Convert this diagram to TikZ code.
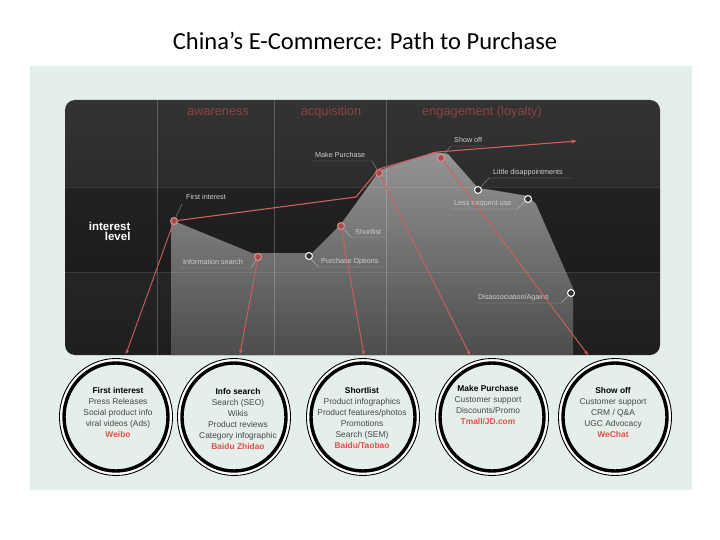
\documentclass[tikz,border=0pt]{standalone}
\usepackage{fontspec}
\setmainfont{Liberation Sans}
\newfontfamily\titlefont{Carlito}
\usetikzlibrary{shapes.geometric,arrows.meta}
\definecolor{panel}{HTML}{E4EFEA}
\definecolor{trend}{HTML}{D0605C}
\definecolor{hdr}{HTML}{8E4444}
\definecolor{redtxt}{HTML}{E0504A}
\definecolor{lbl}{HTML}{CFCFCF}
\tikzset{
  rdot/.style={circle, draw=trend!70!white, fill=trend!80!black, line width=1pt, minimum size=7pt, inner sep=0pt},
  wdot/.style={circle, draw=white, fill=gray!40!black, line width=1pt, minimum size=7pt, inner sep=0pt},
  chartlbl/.style={font=\fontsize{7.2}{8.5}\selectfont, text=lbl, inner sep=1pt},
  leader/.style={draw=white, draw opacity=0.45, line width=0.45pt},
  conn/.style={draw=trend, line width=0.9pt, -{Stealth[length=4.5pt,width=3.5pt]}},
  hdrlbl/.style={font=\fontsize{12.8}{14}\selectfont, text=hdr},
  ringtxt/.style={align=center, font=\fontsize{8.4}{11}\selectfont, text=gray!55!black, inner sep=0pt},
  outerring/.style={draw=black, fill=white, line width=0.9pt},
  innerring/.style={draw=black, fill=panel, line width=3.4pt},
  gridline/.style={draw=white, draw opacity=0.22, line width=0.6pt},
}
\newcommand{\rt}[1]{\textcolor{redtxt}{\bfseries #1}}
\newcommand{\bt}[1]{\textcolor{black}{\bfseries #1}}
\begin{document}
\begin{tikzpicture}[x=1pt,y=-1pt]
\useasboundingbox (0,0) rectangle (720,540);
\fill[white] (0,0) rectangle (720,540);
\node[font=\titlefont\fontsize{24.5}{28}\selectfont] (title) at (365,41) {China’s E-Commerce: Path to Purchase};
\fill[panel] (30,66) rectangle (692,490);

% dark chart board
\path[rounded corners=10pt, top color=black!80, bottom color=black!88] (65,100) rectangle (660,355);
\fill[black, opacity=0.22] (65,187) rectangle (660,272);

% grey interest area
\shade[top color=black!42, bottom color=black!70]
  (171,218) -- (174,221) -- (252,253) -- (312,253) -- (341,224) -- (362,195) -- (380,170)
  -- (434,152) -- (448,154) -- (478,188) -- (492,190) -- (528,196) -- (536,204)
  -- (573,288) -- (573,355) -- (171,355) -- cycle;

% grid lines
\draw[gridline] (157,100) -- (157,355);
\draw[gridline] (274,100) -- (274,355);
\draw[gridline] (386,100) -- (386,355);
\draw[gridline, draw opacity=0.1] (65,187) -- (660,187);
\draw[gridline, draw opacity=0.1] (65,272) -- (660,272);

% headers
\node[hdrlbl] (h1) at (218,112) {awareness};
\node[hdrlbl] (h2) at (331,112) {acquisition};
\node[hdrlbl] (h3) at (482,112) {engagement (loyalty)};
\node[align=right, anchor=east, font=\bfseries\fontsize{11.5}{10}\selectfont, text=white] (il) at (134,231) {interest\\level};

% dots
\node[rdot] (d1) at (174,221) {};
\node[rdot] (d2) at (258,257) {};
\node[rdot] (d3) at (341,226) {};
\node[rdot] (d4) at (379,173) {};
\node[rdot] (d5) at (441,158) {};
\node[wdot] (w1) at (309,256) {};
\node[wdot] (w2) at (478,190) {};
\node[wdot] (w3) at (528,199) {};
\node[wdot] (w4) at (571,293) {};

% chart labels with leaders
\node[chartlbl, anchor=west] (l1) at (185,197) {First interest};
\draw[leader] (d1) -- (182,204);
\node[chartlbl, anchor=west] (l2) at (182,262) {Information search};
\draw[leader] (180,268) -- (251,268) -- (d2);
\node[chartlbl, anchor=west] (l3) at (320,262) {Purchase Options};
\draw[leader] (w1) -- (318,267) -- (384,267);
\node[chartlbl, anchor=west] (l4) at (354,232) {Shortlist};
\draw[leader] (d3) -- (351,237) -- (386,237);
\node[chartlbl, anchor=west] (l5) at (314,155) {Make Purchase};
\draw[leader] (312,161) -- (372,161) -- (d4);
\node[chartlbl, anchor=west] (l6) at (453,140) {Show off};
\draw[leader] (d5) -- (451,146) -- (484,146);
\node[chartlbl, anchor=west] (l7) at (492,173) {Little disappointments};
\draw[leader] (w2) -- (489,178) -- (572,178);
\node[chartlbl, anchor=west] (l8) at (453,204) {Less frequent use};
\draw[leader] (451,209) -- (517,209) -- (w3);
\node[chartlbl, anchor=west] (l9) at (477,298) {Disassociation/Agains};
\draw[leader] (475,303) -- (561,303) -- (w4);

% trend line
\coordinate (tend) at (577,141);
\draw[draw=trend, line width=1.1pt, -{Stealth[length=6pt,width=4pt]}]
  (d1) -- (356,197) -- (d4.north) -- (437,152) -- (tend);

% rings
\foreach \n/\x in {1/116,2/234,3/363,4/492,5/615}{
  \coordinate (k\n) at (\x,417);
  \draw[outerring] (k\n) ellipse [x radius=56.5, y radius=58.5];
  \draw[innerring] (k\n) ellipse [x radius=52, y radius=54];
}

% arrow ends
\coordinate (a1) at (126,354);
\coordinate (a2) at (240,354);
\coordinate (a3) at (364,355);
\coordinate (a4) at (470,355);
\coordinate (a5) at (588,355);
\draw[conn] (d1) -- (a1);
\draw[conn] (d2) -- (a2);
\draw[conn] (d3) -- (a3);
\draw[conn] (d4) -- (a4);
\draw[conn] (d5) -- (a5);

% ring texts
\node[ringtxt] (t1) at (118,412.5) {\bt{First interest}\\Press Releases\\Social product info\\viral videos (Ads)\\\rt{Weibo}};
\node[ringtxt] (t2) at (238,418.5) {\bt{Info search}\\Search (SEO)\\Wikis\\Product reviews\\Category infographic\\\rt{Baidu Zhidao}};
\node[ringtxt] (t3) at (362,418.5) {\bt{Shortlist}\\Product infographics\\Product features/photos\\Promotions\\Search (SEM)\\\rt{Baidu/Taobao}};
\node[ringtxt] (t4) at (488,405.5) {\bt{Make Purchase}\\Customer support\\Discounts/Promo\\\rt{Tmall/JD.com}};
\node[ringtxt] (t5) at (613,412.5) {\bt{Show off}\\Customer support\\CRM / Q\&A\\UGC Advocacy\\\rt{WeChat}};
\end{tikzpicture}
\end{document}
